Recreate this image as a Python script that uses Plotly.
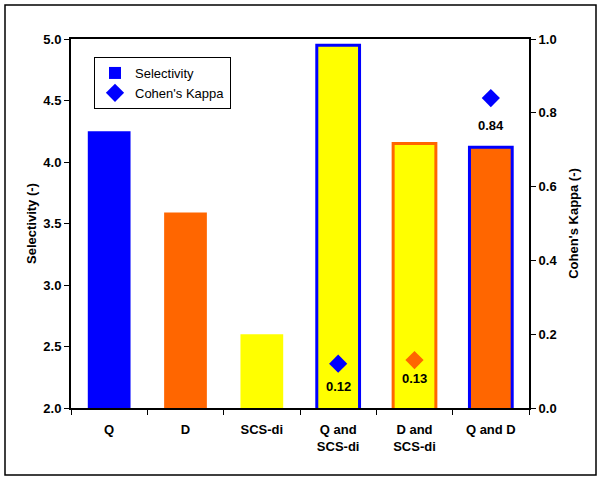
import plotly.graph_objects as go

# chart data
categories = ["Q", "D", "SCS-di", "Q and<br>SCS-di", "D and<br>SCS-di", "Q and D"]
selectivity = [4.25, 3.59, 2.60, 4.95, 4.15, 4.12]
kappa_cats = ["Q and<br>SCS-di", "D and<br>SCS-di", "Q and D"]
kappa = [0.12, 0.13, 0.84]
kappa_labels = ["0.12", "0.13", "0.84"]

BLUE = "#0000FF"
ORANGE = "#FF6600"
YELLOW = "#FFFF00"
bar_fill = [BLUE, ORANGE, YELLOW, YELLOW, YELLOW, ORANGE]
bar_edge = [BLUE, ORANGE, YELLOW, BLUE, ORANGE, BLUE]
bar_edge_w = [0, 0, 0, 3, 3, 3]
kappa_colors = [BLUE, ORANGE, BLUE]
label_shift = [-23, -18, -27]  # pixel offset of the value labels under the diamonds

W, H = 607, 482
L, R, T, B = 71, 78, 39, 74

fig = go.Figure()

fig.add_trace(
    go.Bar(
        x=categories,
        y=selectivity,
        name="Selectivity",
        marker=dict(color=bar_fill, line=dict(color=bar_edge, width=bar_edge_w)),
        width=0.56,
    )
)

fig.add_trace(
    go.Scatter(
        x=kappa_cats,
        y=kappa,
        yaxis="y2",
        mode="markers",
        name="Cohen's Kappa",
        marker=dict(symbol="diamond", size=14, color=kappa_colors),
    )
)

lbl_font = dict(family="Liberation Sans", size=13, color="black", weight="bold")
for c, v, t, s in zip(kappa_cats, kappa, kappa_labels, label_shift):
    fig.add_annotation(
        x=c, y=v, xref="x", yref="y2", text=t, showarrow=False,
        yshift=s, font=lbl_font,
    )

# outer frame in pixel coords -> paper coords
pw, ph = W - L - R, H - T - B


def px(x):
    return (x - L) / pw


def py(y):
    return (H - B - y) / ph


fig.add_shape(
    type="rect", xref="paper", yref="paper",
    x0=px(5), x1=px(596), y0=py(475), y1=py(5),
    line=dict(color="black", width=1.5), layer="below",
)

tick_font = dict(family="Liberation Sans", size=13, color="black", weight="bold")

fig.update_layout(
    width=W,
    height=H,
    margin=dict(l=L, r=R, t=T, b=B),
    paper_bgcolor="white",
    plot_bgcolor="white",
    font=dict(family="Liberation Sans", size=12, color="black"),
    xaxis=dict(
        showline=True, linecolor="black", linewidth=2, mirror=True,
        ticks="outside", tickcolor="black", ticklen=5, tickson="boundaries",
        tickfont=tick_font, showgrid=False, automargin=False,
        ticklabelstandoff=8,
    ),
    yaxis=dict(
        range=[2, 5], dtick=0.5, tickformat=".1f",
        showline=True, linecolor="black", linewidth=2,
        ticks="outside", tickcolor="black", ticklen=5,
        tickfont=tick_font, showgrid=False, zeroline=False, automargin=False,
        title=dict(text="Selectivity (-)", font=tick_font, standoff=4),
    ),
    yaxis2=dict(
        range=[0, 1], overlaying="y", side="right", dtick=0.2, tickformat=".1f",
        showline=True, linecolor="black", linewidth=2,
        ticks="outside", tickcolor="black", ticklen=5,
        tickfont=tick_font, showgrid=False, zeroline=False, automargin=False,
        title=dict(text="Cohen's Kappa (-)", font=tick_font, standoff=12),
    ),
    legend=dict(
        x=px(94), y=py(57), xanchor="left", yanchor="top",
        bordercolor="black", borderwidth=1, bgcolor="white",
        font=dict(family="Liberation Sans", size=13, color="black"),
        itemwidth=30, tracegroupgap=0,
    ),
    showlegend=True,
)

# drop the page's default body margin so the figure sits at the window origin
fig.write_html(
    "out.html",
    config={"displayModeBar": False},
    post_script="document.body.style.margin='0';document.body.style.overflow='hidden';",
)
